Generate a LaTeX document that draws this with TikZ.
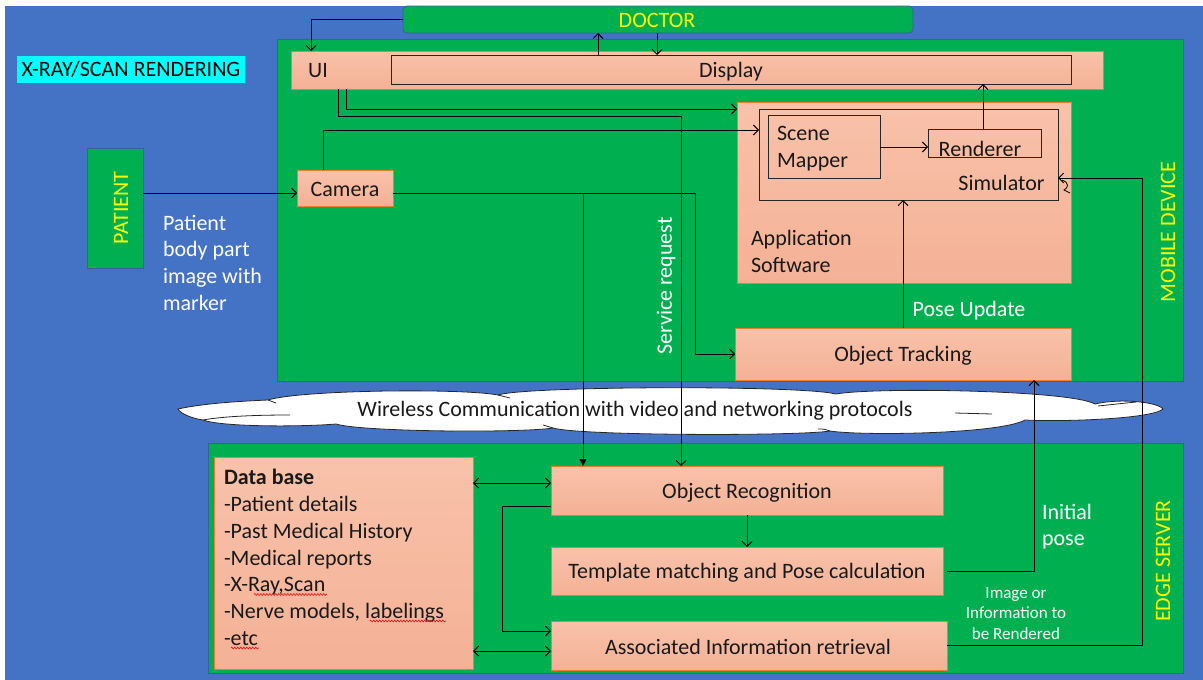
\documentclass[tikz,border=0pt]{standalone}
\usepackage{fontspec}
\setmainfont{Carlito}
\usetikzlibrary{arrows.meta, decorations.pathmorphing}

\definecolor{bgblue}{HTML}{4472C4}
\definecolor{zonegreen}{HTML}{00B050}
\definecolor{zoneedge}{HTML}{3A5F9E}
\definecolor{salmontop}{HTML}{F8C2AA}
\definecolor{salmonbot}{HTML}{F4B196}
\definecolor{salmonedge}{HTML}{ED7D31}
\definecolor{titleyellow}{HTML}{FFFF00}
\definecolor{markcyan}{HTML}{00FFFF}
\definecolor{spellred}{HTML}{E02020}

\tikzset{
  every node/.style={inner sep=0pt, outer sep=0pt},
  zone/.style={fill=zonegreen, draw=zoneedge, line width=0.8pt},
  block/.style={top color=salmontop, bottom color=salmonbot, draw=salmonedge, line width=0.8pt},
  frame/.style={draw=black!85, line width=0.8pt},
  lbl/.style={font=\fontsize{22}{26.7}\selectfont, text=black!90},
  wlbl/.style={lbl, text=white},
  ylbl/.style={lbl, text=titleyellow},
  smalllbl/.style={font=\fontsize{17}{20.5}\selectfont, text=white, align=center},
  cloudline/.style={draw=black!85, line width=0.8pt},
  spellwave/.style={draw=spellred, line width=0.7pt, decorate,
                    decoration={zigzag, segment length=3pt, amplitude=0.9pt}},
  conn/.style={draw=black, line width=0.9pt, -{Straight Barb[length=5pt,width=10pt]}},
  connfill/.style={draw=black, line width=0.9pt, -{Triangle[length=7pt,width=7pt]}},
  conn2/.style={draw=black, line width=0.9pt, {Straight Barb[length=5pt,width=10pt]}-{Straight Barb[length=5pt,width=10pt]}},
}

\begin{document}
\begin{tikzpicture}[x=1pt, y=-1pt]
\useasboundingbox (0,0) rectangle (1203,680);
\fill[bgblue] (5,6) rectangle (1203,680);

% ---- title
\node[lbl, fill=markcyan, minimum width=228pt, minimum height=27pt, text=black] (title) at (131,69.5) {X-RAY/SCAN RENDERING};

% ---- zones
\node[zone, minimum width=906pt, minimum height=342pt] (mobile) at (730,210) {};
\node[zone, minimum width=975pt, minimum height=230pt] (edge) at (695.5,558) {};
\node[zone, rounded corners=4pt, minimum width=510pt, minimum height=27pt] (doctor) at (658,19.5) {};
\node[ylbl] (doctortext) at (657,20) {DOCTOR};
\node[zone, minimum width=56pt, minimum height=120pt] (patient) at (115,208) {};
\node[ylbl, rotate=90] (patienttext) at (121,208) {PATIENT};
\node[ylbl, rotate=90] (mobiletext) at (1168,232) {MOBILE DEVICE};
\node[ylbl, rotate=90] (edgetext) at (1163,561) {EDGE SERVER};

% ---- wireless link: a long flattened cloud
\fill[white] (178,409)
  .. controls (205,403) and (245,401) .. (268,400)
  .. controls (300,390) and (460,388) .. (498,395)
  .. controls (525,386) and (800,385) .. (836,394)
  .. controls (875,387) and (1070,390) .. (1095,404)
  .. controls (1120,398) and (1158,402) .. (1163,409)
  .. controls (1152,419) and (1062,422) .. (1025,420)
  .. controls (1000,434) and (862,436) .. (830,431)
  .. controls (800,436) and (582,436) .. (553,428)
  .. controls (522,433) and (362,432) .. (336,424)
  .. controls (300,427) and (222,427) .. (203,420)
  .. controls (190,418) and (180,413) .. (178,409) -- cycle;
\draw[cloudline] (178,409)
  .. controls (205,403) and (245,401) .. (268,400)
  .. controls (300,390) and (460,388) .. (498,395)
  .. controls (525,386) and (800,385) .. (836,394)
  .. controls (875,387) and (1070,390) .. (1095,404)
  .. controls (1120,398) and (1158,402) .. (1163,409)
  .. controls (1152,419) and (1062,422) .. (1025,420)
  .. controls (1000,434) and (862,436) .. (830,431)
  .. controls (800,436) and (582,436) .. (553,428)
  .. controls (522,433) and (362,432) .. (336,424)
  .. controls (300,427) and (222,427) .. (203,420)
  .. controls (190,418) and (180,413) .. (178,409) -- cycle;
% inner fold lines of the puffs
\draw[cloudline] (203,420) .. controls (225,416) and (260,415) .. (290,415);
\draw[cloudline] (268,400) .. controls (272,401) .. (276,403);
\draw[cloudline] (498,395) .. controls (504,396) .. (510,398);
\draw[cloudline] (955,413) -- (992,414);
\draw[cloudline] (1098,406) -- (1136,402);
\draw[cloudline] (553,428) .. controls (548,426) .. (543,425);
\draw[cloudline] (830,431) .. controls (824,429) .. (818,429);
\node[lbl] (cloudtext) at (635,411) {Wireless Communication with video and networking protocols};

% ---- mobile device blocks
\node[block, minimum width=812pt, minimum height=38pt] (uibar) at (697,70) {};
\node[lbl] (uitext) at (318,71) {UI};
\node[frame, minimum width=680pt, minimum height=29pt] (display) at (731,69.5) {};
\node[lbl] (displaytext) at (731,72) {Display};

\node[block, minimum width=334pt, minimum height=181pt] (app) at (904,192.5) {};
\node[lbl, anchor=north west, align=left] (apptext) at (751,230.5) {Application\\Software};
\node[frame, minimum width=299pt, minimum height=91pt] (sim) at (908.5,154.5) {};
\node[lbl] (simtext) at (1001.5,183) {Simulator};
\node[frame, minimum width=112pt, minimum height=63pt] (scene) at (824,146.5) {};
\node[lbl, anchor=north west, align=left] (scenetext) at (777,126.5) {Scene\\Mapper};
\node[frame, minimum width=113pt, minimum height=28pt] (renderer) at (984.5,143) {};
\node[lbl] (renderertext) at (980,149) {Renderer};

\node[block, minimum width=96pt, minimum height=36pt] (camera) at (345,188) {};
\node[lbl] (cameratext) at (345,189) {Camera};
\node[block, minimum width=336pt, minimum height=52pt] (tracking) at (903,354) {};
\node[lbl] (trackingtext) at (903,355.5) {Object Tracking};

% ---- edge server blocks
\node[block, minimum width=259pt, minimum height=212pt] (db) at (343.5,563) {};
\node[lbl, anchor=north west, align=left] (dbtext) at (224,469.5)
  {\textbf{Data base}\\-Patient details\\-Past Medical History\\-Medical reports\\-X-Ray,Scan\\-Nerve models, labelings\\-etc};
% spell-check underlines in the data base list
\draw[spellwave] (254,594.5) -- (327,594.5);
\draw[spellwave] (370,621) -- (446,621);
\draw[spellwave] (231,648) -- (259,648);

\node[block, minimum width=392pt, minimum height=49pt] (objrec) at (747,490.5) {};
\node[lbl] (objrectext) at (747,492.5) {Object Recognition};
\node[block, minimum width=392pt, minimum height=48pt] (template) at (747,571) {};
\node[lbl] (templatetext) at (747,572.5) {Template matching and Pose calculation};
\node[block, minimum width=396pt, minimum height=49pt] (assoc) at (749,645.5) {};
\node[lbl] (assoctext) at (748,647) {Associated Information retrieval};

% ---- free labels
\node[wlbl, anchor=north west, align=left] (patientnote) at (163,214.8) {Patient\\body part\\image with\\marker};
\node[wlbl, rotate=90] (servicenote) at (666,286) {Service request};
\node[wlbl] (posenote) at (969,311) {Pose Update};
\node[wlbl, anchor=north west, align=left] (initnote) at (1042,504) {Initial\\pose};
\node[smalllbl, anchor=north] (imagenote) at (1016,587.5) {Image or\\Information to\\be Rendered};

% ---- connectors: doctor / UI / display
\draw[conn] (doctor.west) -| ([xshift=20pt]uibar.north west);
\draw[conn] (display.north -| 598,0) -- (doctor.south -| 598,0);
\draw[conn] (doctor.south -| 657,0) -- (display.north -| 657,0);
\draw[conn] (uibar.south -| 346,0) |- (app.west |- 0,109);
\draw[conn] (uibar.south -| 338,0) |- (681,116) -- (objrec.north -| 681,0);

% ---- connectors: camera
\draw[conn] (patient.east |- 0,193) -- (camera.west |- 0,193);
\draw[conn] (camera.north -| 323,0) |- (sim.west |- 0,130);
\coordinate (camsplit) at (583,193);
\draw[conn] (camera.east |- 0,193) -- (695,193) |- (tracking.west);
\draw[connfill] (camsplit) -- (objrec.north -| camsplit);

% ---- connectors: simulator
\draw[conn] (scene.east |- 0,147) -- (renderer.west |- 0,147);
\draw[conn] (renderer.north -| 983,0) -- (display.south -| 983,0);
\draw[conn] (tracking.north) -- (sim.south -| tracking.north);

% ---- connectors: edge server
\draw[conn] (objrec.south) -- (template.north);
\draw[conn2] (db.east |- 0,483) -- (objrec.west |- 0,483);
\draw[conn2] (db.east |- 0,651) -- (assoc.west |- 0,651);
\draw[conn] (objrec.west |- 0,506) -- (502,506) |- (assoc.west |- 0,631);
\draw[conn] ([xshift=4pt]template.east) -| (tracking.south -| 1034,0);
\draw[conn] (assoc.east) -| (1142,178) -- (sim.east |- 0,178);
\draw[line width=0.8pt] (1062,180) .. controls (1070,183) and (1068,188) .. (1064,190) -- (1070,193);
\end{tikzpicture}
\end{document}
